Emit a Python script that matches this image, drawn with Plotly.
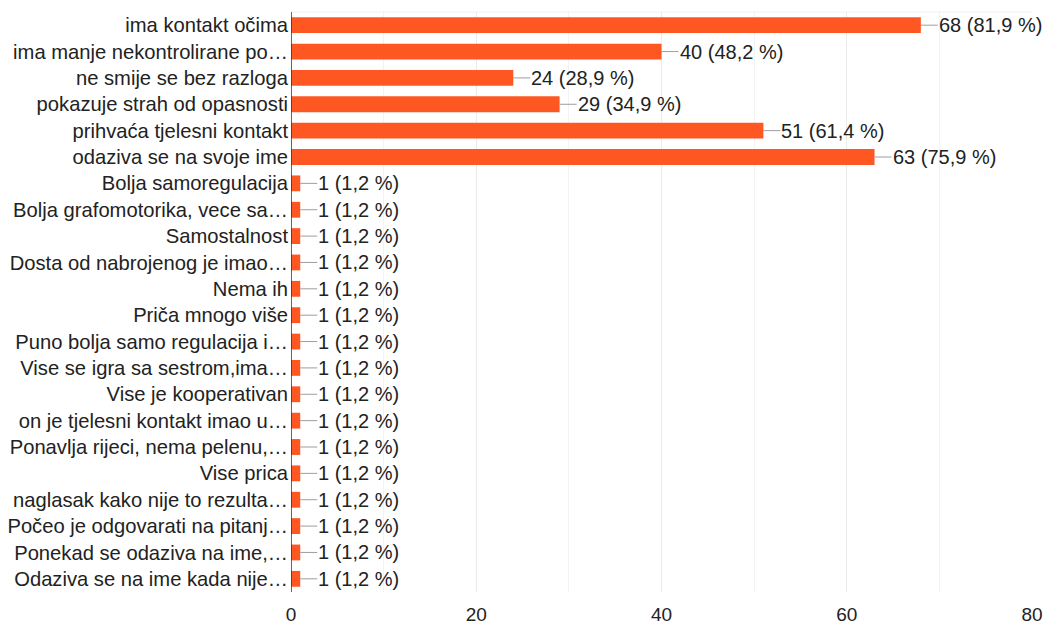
import plotly.graph_objects as go

categories = [
    "ima kontakt očima",
    "ima manje nekontrolirane po…",
    "ne smije se bez razloga",
    "pokazuje strah od opasnosti",
    "prihvaća tjelesni kontakt",
    "odaziva se na svoje ime",
    "Bolja samoregulacija",
    "Bolja grafomotorika, vece sa…",
    "Samostalnost",
    "Dosta od nabrojenog je imao…",
    "Nema ih",
    "Priča mnogo više",
    "Puno bolja samo regulacija i…",
    "Vise se igra sa sestrom,ima…",
    "Vise je kooperativan",
    "on je tjelesni kontakt imao u…",
    "Ponavlja rijeci, nema pelenu,…",
    "Vise prica",
    "naglasak kako nije to rezulta…",
    "Počeo je odgovarati na pitanj…",
    "Ponekad se odaziva na ime,…",
    "Odaziva se na ime kada nije…",
]
counts = [68, 40, 24, 29, 51, 63] + [1] * 16
percents = ["81,9", "48,2", "28,9", "34,9", "61,4", "75,9"] + ["1,2"] * 16
x_ticks = [0, 20, 40, 60, 80]

FONT = "Liberation Sans, Arial, sans-serif"
TEXT = "#222222"
FS = 20.2

fig = go.Figure(
    go.Bar(
        x=counts,
        y=categories,
        orientation="h",
        marker=dict(color="#ff5722", line=dict(width=0)),
        hoverinfo="skip",
    )
)

for c, cat, p in zip(counts, categories, percents):
    fig.add_annotation(
        x=c, y=cat, xref="x", yref="y",
        text=f"{c} ({p} %)",
        showarrow=True, arrowhead=0, arrowwidth=1, arrowcolor="#9e9e9e",
        ax=17, ay=0, xanchor="left", yanchor="middle",
        standoff=0, startstandoff=0, borderpad=0,
        font=dict(family=FONT, size=20, color=TEXT),
    )

fig.update_layout(
    width=1043, height=625,
    margin=dict(l=291, r=11, t=12, b=33),
    paper_bgcolor="white", plot_bgcolor="white",
    bargap=0.4,
    showlegend=False,
    font=dict(family=FONT, size=FS, color=TEXT),
)
fig.update_xaxes(
    range=[0, 80], tickvals=x_ticks, ticktext=[str(v) for v in x_ticks],
    showgrid=True, gridcolor="#ebebeb", gridwidth=1,
    minor=dict(dtick=10, showgrid=True, gridcolor="#f3f3f3", gridwidth=1),
    zeroline=False, showline=False, ticks="",
    tickfont=dict(family=FONT, size=19, color=TEXT),
    ticklabelstandoff=9,
    automargin=False,
    fixedrange=True,
)
fig.update_yaxes(
    autorange="reversed", showgrid=False, zeroline=False,
    showline=False, ticks="", ticklabelstandoff=2,
    tickfont=dict(family=FONT, size=FS, color=TEXT),
    automargin=False,
    fixedrange=True,
)
fig.add_shape(type="line", xref="paper", yref="paper", x0=0, x1=1, y0=1, y1=1,
              line=dict(color="#f0f0f0", width=1))
fig.add_shape(type="line", xref="x", yref="paper", x0=0, x1=0, y0=0, y1=1,
              line=dict(color="#333333", width=1.5))

fig.write_html("out.html", config={"displayModeBar": False, "staticPlot": True},
               post_script="document.body.style.margin='0';")
